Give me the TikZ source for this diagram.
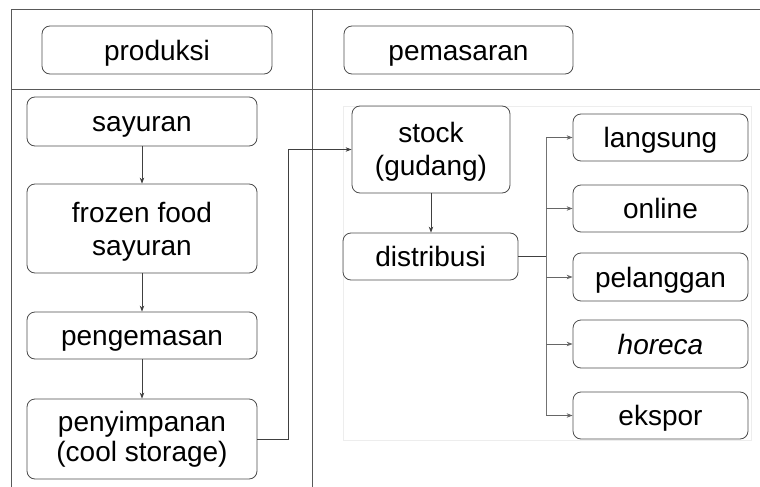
\documentclass[tikz,border=0pt]{standalone}
\usepackage{fontspec}
\setmainfont{Liberation Sans}
\usetikzlibrary{arrows.meta}
\newcommand\twolines[3]{\begin{tabular}[b]{@{}c@{}}#1\\[#3]#2\end{tabular}}
\begin{document}
\begin{tikzpicture}[x=1pt,y=-1pt,
  frame/.style={draw=black!65,line width=1pt},
  box/.style={draw=black!70,line width=0.8pt,rounded corners=8pt,
    inner sep=0pt,text height=26pt,text depth=6pt,
    font=\fontsize{28}{33}\selectfont},
  tall/.style={text height=#1,text depth=6pt},
  conn/.style={draw=black!75,line width=0.8pt},
  arr/.style={conn,-{Stealth[length=6pt,width=4.5pt]}}]
\useasboundingbox (0,0) rectangle (760,487);
% table frame
\draw[frame] (11,10) -- (760,10);
\draw[frame] (11,89) -- (760,89);
\draw[frame] (11,10) -- (11,487);
\draw[frame] (312,10) -- (312,487);
% faint panel
\draw[black!7,line width=0.6pt] (343,106) rectangle (751,440);
% headers
\node[box,minimum width=230pt,minimum height=48pt] (prod) at (157,50) {produksi};
\node[box,minimum width=229pt,minimum height=48pt] (pem) at (458.5,50) {pemasaran};
% production column
\node[box,minimum width=230pt,minimum height=49pt] (say) at (142,121.5) {sayuran};
\node[box,tall=59pt,minimum width=230pt,minimum height=89pt] (froz) at (142,228.5) {\twolines{frozen food}{sayuran}{0pt}};
\node[box,minimum width=230pt,minimum height=47pt] (peng) at (142,335.5) {pengemasan};
\node[box,tall=51.4pt,minimum width=230pt,minimum height=80pt] (peny) at (142,439) {\twolines{penyimpanan}{(cool storage)}{-3pt}};
% marketing
\node[box,tall=57pt,minimum width=158pt,minimum height=87pt] (stock) at (431,149.5) {\twolines{stock}{(gudang)}{0pt}};
\node[box,minimum width=175pt,minimum height=47pt] (dist) at (430.5,256.5) {distribusi};
\node[box,minimum width=175pt,minimum height=47pt] (lang) at (660.5,137.5) {langsung};
\node[box,minimum width=175pt,minimum height=47pt] (onl) at (660.5,208.5) {online};
\node[box,minimum width=175pt,minimum height=48pt] (pel) at (660.5,277) {pelanggan};
\node[box,minimum width=175pt,minimum height=48pt] (hor) at (660.5,344) {\itshape horeca};
\node[box,minimum width=175pt,minimum height=47pt] (eks) at (660.5,415.5) {ekspor};
% arrows
\draw[arr] (say) -- (froz);
\draw[arr] (froz) -- (peng);
\draw[arr] (peng) -- (peny);
\draw[arr] (peny.east) -- ++(31,0) |- (stock.west);
\draw[arr] (stock.south) -- (stock.south |- dist.north);
\coordinate (bus) at (546,256.5);
\draw[conn] (dist.east) -- (bus);
\draw[conn,black!55] (bus |- lang.west) -- (bus |- eks.west);
\foreach \t in {lang,onl,pel,hor,eks}
  \draw[arr,black!60] (bus |- \t.west) -- (\t.west);
\end{tikzpicture}
\end{document}
